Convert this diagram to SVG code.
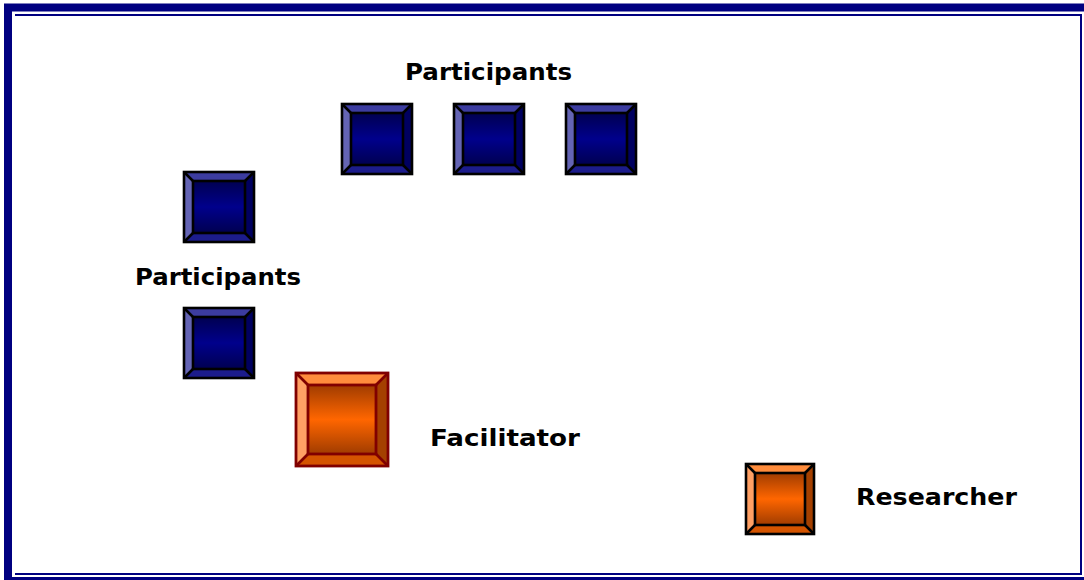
<svg xmlns="http://www.w3.org/2000/svg" xmlns:xlink="http://www.w3.org/1999/xlink" width="1084" height="580" viewBox="0 0 1084 580">
<style>
.lbl{font-family:"DejaVu Sans","Liberation Sans",sans-serif;font-weight:bold;font-size:23.5px;fill:#000}
.frame{fill:none;stroke:#000080}
.bt{fill:#3c3ca0}.bl{fill:#6464b4}.br{fill:#000060}.bb{fill:#1c1c8c}
.ot{fill:#ff8c3c}.ol{fill:#ffa064}.or{fill:#a44000}.ob{fill:#d45400}
.edgeB{fill:none;stroke:#000;stroke-width:2.6}
.edgeR{fill:none;stroke:#800000;stroke-width:2.8}
</style>
<defs>
<linearGradient id="gB" x1="0" y1="0" x2="0" y2="1">
<stop offset="0" stop-color="#000050"/><stop offset="0.5" stop-color="#00008c"/><stop offset="1" stop-color="#000050"/>
</linearGradient>
<linearGradient id="gO" x1="0" y1="0" x2="0" y2="1">
<stop offset="0" stop-color="#a03c00"/><stop offset="0.5" stop-color="#ff6600"/><stop offset="1" stop-color="#a03c00"/>
</linearGradient>
<g id="blueBox">
<polygon class="bt" points="0,0 70,0 61,9 9,9"/>
<polygon class="bl" points="0,0 9,9 9,61 0,70"/>
<polygon class="br" points="70,0 70,70 61,61 61,9"/>
<polygon class="bb" points="0,70 9,61 61,61 70,70"/>
<rect x="9" y="9" width="52" height="52" fill="url(#gB)"/>
<path class="edgeB" d="M0,0L9,9M70,0L61,9M0,70L9,61M70,70L61,61"/>
<rect class="edgeB" x="9" y="9" width="52" height="52"/>
<rect class="edgeB" x="0" y="0" width="70" height="70"/>
</g>
</defs>
<rect width="1084" height="580" fill="#fff"/>
<rect class="frame" x="8" y="7.5" width="1082" height="573.5" stroke-width="8"/>
<path class="frame" stroke-width="2" d="M15,15H1081V574H15"/>
<g id="participants-top-1"><use xlink:href="#blueBox" x="342" y="104"/></g>
<g id="participants-top-2"><use xlink:href="#blueBox" x="454" y="104"/></g>
<g id="participants-top-3"><use xlink:href="#blueBox" x="566" y="104"/></g>
<g id="participants-left-1"><use xlink:href="#blueBox" x="184" y="172"/></g>
<g id="participants-left-2"><use xlink:href="#blueBox" x="184" y="308"/></g>
<g id="facilitator">
<polygon class="ot" points="296,373 388,373 376,385 308,385"/>
<polygon class="ol" points="296,373 308,385 308,454 296,466"/>
<polygon class="or" points="388,373 388,466 376,454 376,385"/>
<polygon class="ob" points="296,466 308,454 376,454 388,466"/>
<rect x="308" y="385" width="68" height="69" fill="url(#gO)"/>
<path class="edgeR" d="M296,373L308,385M388,373L376,385M296,466L308,454M388,466L376,454"/>
<rect class="edgeR" x="308" y="385" width="68" height="69"/>
<rect class="edgeR" x="296" y="373" width="92" height="93"/>
</g>
<g id="researcher">
<polygon class="ot" points="746,464 814,464 805,473 755,473"/>
<polygon class="ol" points="746,464 755,473 755,525 746,534"/>
<polygon class="or" points="814,464 814,534 805,525 805,473"/>
<polygon class="ob" points="746,534 755,525 805,525 814,534"/>
<rect x="755" y="473" width="50" height="52" fill="url(#gO)"/>
<path class="edgeB" d="M746,464L755,473M814,464L805,473M746,534L755,525M814,534L805,525"/>
<rect class="edgeB" x="755" y="473" width="50" height="52"/>
<rect class="edgeB" x="746" y="464" width="68" height="70"/>
</g>
<g id="labels">
<text class="lbl" x="405" y="80" textLength="167" lengthAdjust="spacingAndGlyphs">Participants</text>
<text class="lbl" x="135" y="285" textLength="166" lengthAdjust="spacingAndGlyphs">Participants</text>
<text class="lbl" x="430" y="446" textLength="150" lengthAdjust="spacingAndGlyphs">Facilitator</text>
<text class="lbl" x="856" y="505" textLength="161" lengthAdjust="spacingAndGlyphs">Researcher</text>
</g>
<g id="connectors"/>
</svg>
